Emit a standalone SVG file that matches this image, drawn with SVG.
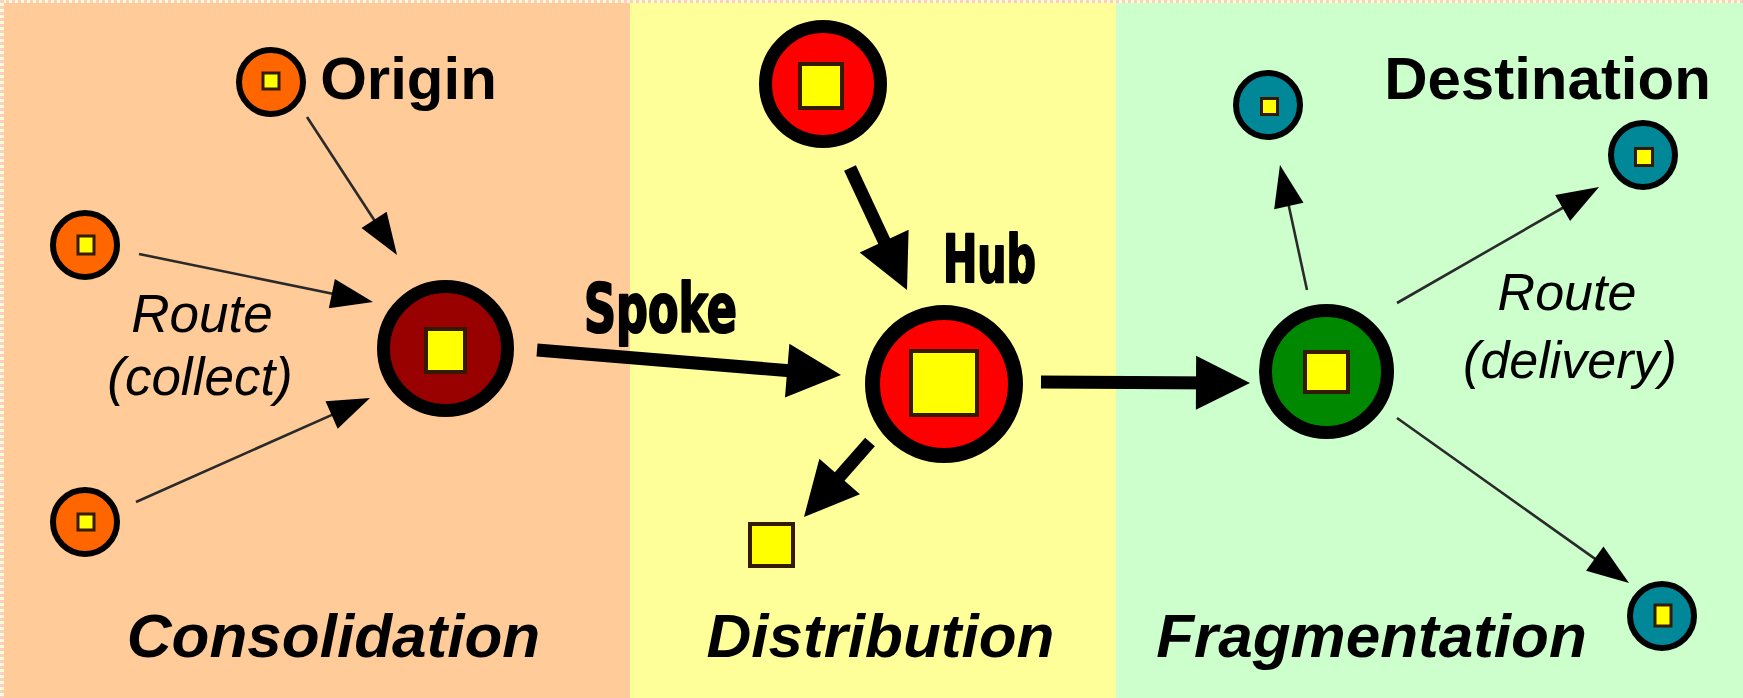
<svg xmlns="http://www.w3.org/2000/svg" width="1743" height="698" viewBox="0 0 1743 698">
<style>
.ring{stroke:#000}
.sq{fill:#ffff00;stroke:#331a00}
.thin{stroke:#2a2a2a;stroke-width:2.6;fill:none}
.thick{stroke:#000;stroke-width:13;fill:none}
.lbl{font-family:"Liberation Sans",Arial,sans-serif;fill:#000}
.b{font-weight:bold}
.it{font-style:italic}
.heavy{font-family:"DejaVu Sans Condensed","DejaVu Sans",sans-serif;font-weight:bold;fill:#000;stroke:#000;stroke-width:2.2;stroke-linejoin:round}
</style>
<defs>
<marker id="ahThin" markerUnits="userSpaceOnUse" markerWidth="42" markerHeight="30" refX="22" refY="15" orient="auto" overflow="visible">
<path d="M0,0 L42,15 L0,30 z" fill="#000"/>
</marker>
<marker id="ahThick" markerUnits="userSpaceOnUse" markerWidth="54" markerHeight="54" refX="24" refY="27" orient="auto" overflow="visible">
<path d="M0,0 L54,27 L0,54 z" fill="#000"/>
</marker>
</defs>

<g id="background">
<rect x="0" y="0" width="630" height="698" fill="#ffcc99"/>
<rect x="630" y="0" width="486" height="698" fill="#ffff99"/>
<rect x="1116" y="0" width="627" height="698" fill="#ccffcc"/>
<line x1="0" y1="1.5" x2="1743" y2="1.5" stroke="#ffcccc" stroke-width="3"/>
<line x1="3" y1="1.5" x2="1743" y2="1.5" stroke="#ffffcc" stroke-width="3" stroke-dasharray="3 3"/>
<line x1="2" y1="0" x2="2" y2="698" stroke="#ffcccc" stroke-width="4"/>
<line x1="2" y1="3" x2="2" y2="698" stroke="#ffffcc" stroke-width="4" stroke-dasharray="3 3"/>
</g>

<g id="connectors">
<line class="thin" x1="307" y1="117" x2="386.1" y2="238.3" marker-end="url(#ahThin)"/>
<line class="thin" x1="139" y1="254" x2="353.4" y2="298" marker-end="url(#ahThin)"/>
<line class="thin" x1="136" y1="502" x2="351.7" y2="406.1" marker-end="url(#ahThin)"/>
<line class="thin" x1="1307" y1="290" x2="1284.2" y2="184.5" marker-end="url(#ahThin)"/>
<line class="thin" x1="1397" y1="303" x2="1581.7" y2="197" marker-end="url(#ahThin)"/>
<line class="thin" x1="1397" y1="418" x2="1612.7" y2="571.4" marker-end="url(#ahThin)"/>
<line class="thick" x1="537" y1="350" x2="811.1" y2="372.5" marker-end="url(#ahThick)"/>
<line class="thick" x1="850" y1="168" x2="894.3" y2="262.8" marker-end="url(#ahThick)"/>
<line class="thick" x1="870" y1="442" x2="823.8" y2="494.5" marker-end="url(#ahThick)"/>
<line class="thick" x1="1041" y1="382" x2="1220" y2="382.9" marker-end="url(#ahThick)"/>
</g>

<g id="origin">
<circle class="ring" cx="271" cy="82" r="32" fill="#ff6600" stroke-width="6"/>
<rect class="sq" x="263" y="73" width="16" height="16" stroke-width="3"/>
</g>
<g id="origin-left-1">
<circle class="ring" cx="85" cy="245" r="32" fill="#ff6600" stroke-width="6"/>
<rect class="sq" x="78" y="236" width="16" height="18" stroke-width="3"/>
</g>
<g id="origin-left-2">
<circle class="ring" cx="85" cy="522" r="32" fill="#ff6600" stroke-width="6"/>
<rect class="sq" x="78" y="514" width="16" height="16" stroke-width="3"/>
</g>
<g id="consolidation-hub">
<circle class="ring" cx="445.5" cy="348.5" r="62" fill="#990000" stroke-width="13"/>
<rect class="sq" x="426" y="329" width="39" height="43" stroke-width="4"/>
</g>
<g id="source-hub">
<circle class="ring" cx="823" cy="84" r="57.5" fill="#ff0000" stroke-width="13"/>
<rect class="sq" x="800" y="64" width="42" height="44" stroke-width="4" stroke="#660000"/>
</g>
<g id="hub">
<circle class="ring" cx="944" cy="384" r="71.5" fill="#ff0000" stroke-width="15"/>
<rect class="sq" x="911" y="351" width="66" height="64" stroke-width="4" stroke="#440000"/>
</g>
<g id="local-point">
<rect class="sq" x="750" y="524" width="43" height="42" stroke-width="4" stroke="#333300"/>
</g>
<g id="fragmentation-hub">
<circle class="ring" cx="1326.5" cy="371.5" r="61" fill="#008800" stroke-width="13"/>
<rect class="sq" x="1305" y="352" width="43" height="40" stroke-width="4" stroke="#003300"/>
</g>
<g id="destination-1">
<circle class="ring" cx="1268" cy="105" r="32" fill="#008899" stroke-width="6"/>
<rect class="sq" x="1261.5" y="98.5" width="16" height="16" stroke-width="3" stroke="#333300"/>
</g>
<g id="destination-2">
<circle class="ring" cx="1643" cy="155" r="32" fill="#008899" stroke-width="6"/>
<rect class="sq" x="1635.5" y="148.5" width="17" height="17" stroke-width="3" stroke="#333300"/>
</g>
<g id="destination-3">
<circle class="ring" cx="1662" cy="616" r="32" fill="#008899" stroke-width="6"/>
<rect class="sq" x="1655" y="605" width="16" height="21" stroke-width="3" stroke="#002244"/>
</g>

<g id="labels">
<text class="lbl b" x="408.5" y="99" font-size="60" text-anchor="middle">Origin</text>
<text class="lbl b" x="1547.5" y="99" font-size="60" text-anchor="middle">Destination</text>
<text class="heavy" x="584" y="332" font-size="67" textLength="153" lengthAdjust="spacingAndGlyphs">Spoke</text>
<text class="heavy" x="943" y="282" font-size="65" textLength="93" lengthAdjust="spacingAndGlyphs">Hub</text>
<text class="lbl it" x="202" y="332" font-size="53" text-anchor="middle">Route</text>
<text class="lbl it" x="200" y="395" font-size="53" text-anchor="middle">(collect)</text>
<text class="lbl it" x="1567" y="310" font-size="52" text-anchor="middle">Route</text>
<text class="lbl it" x="1570" y="378" font-size="52" text-anchor="middle">(delivery)</text>
<text class="lbl b it" x="333.5" y="657" font-size="62" text-anchor="middle">Consolidation</text>
<text class="lbl b it" x="880.5" y="657" font-size="62" text-anchor="middle">Distribution</text>
<text class="lbl b it" x="1371.5" y="657" font-size="62" text-anchor="middle">Fragmentation</text>
</g>
</svg>
